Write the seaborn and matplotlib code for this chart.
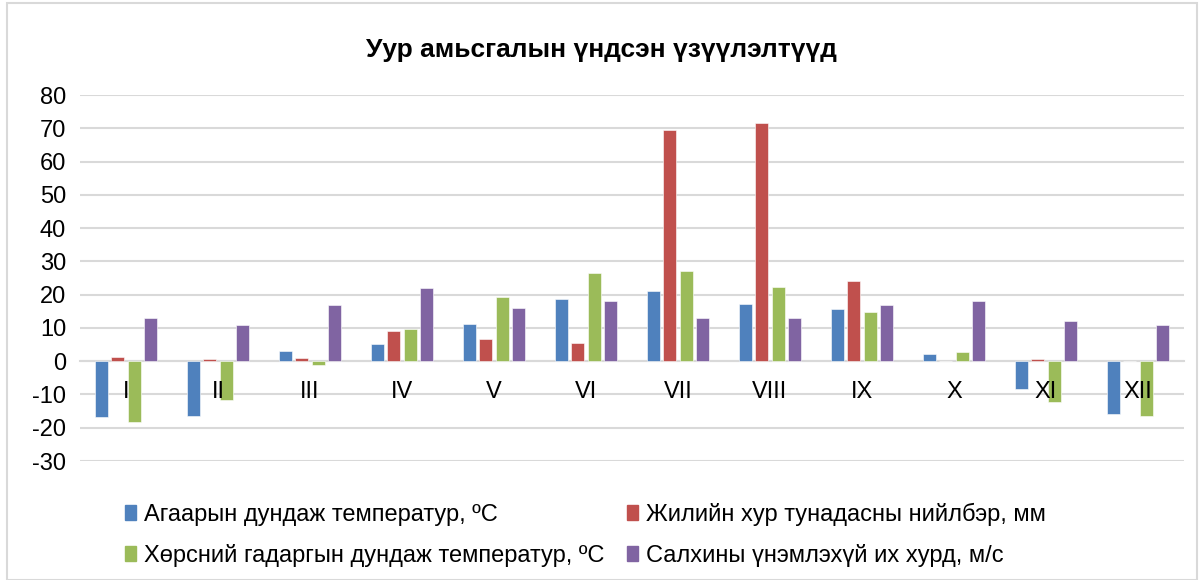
import matplotlib
matplotlib.use("Agg")
import matplotlib.pyplot as plt
import matplotlib.patches as mpatches
import seaborn as sns
import pandas as pd

months = ["I", "II", "III", "IV", "V", "VI", "VII", "VIII", "IX", "X", "XI", "XII"]
air_temp = [-16.8, -16.4, 3.1, 5.1, 11.2, 18.7, 21.0, 17.2, 15.6, 2.3, -8.4, -16.0]
precip = [1.2, 0.7, 1.0, 9.0, 6.8, 5.6, 69.5, 71.6, 24.0, 0.2, 0.8, 0.2]
soil_temp = [-18.4, -11.7, -1.0, 9.7, 19.4, 26.6, 27.2, 22.2, 14.8, 2.8, -12.4, -16.6]
wind = [13, 11, 17, 22, 16, 18, 13, 13, 17, 18, 12, 11]
series_names = [
    "Агаарын дундаж температур, ºC",
    "Жилийн хур тунадасны нийлбэр, мм",
    "Хөрсний гадаргын дундаж температур, ºC",
    "Салхины үнэмлэхүй их хурд, м/с",
]
title = "Уур амьсгалын үндсэн үзүүлэлтүүд"
colors = ["#4F81BD", "#C0504D", "#9BBB59", "#8064A2"]

rows = []
for name, vals in zip(series_names, [air_temp, precip, soil_temp, wind]):
    for m, v in zip(months, vals):
        rows.append({"month": m, "series": name, "value": v})
df = pd.DataFrame(rows)

sns.set_theme(style="white")
plt.rcParams["font.family"] = ["Liberation Sans", "DejaVu Sans"]
plt.rcParams["axes.unicode_minus"] = False
plt.rcParams["text.color"] = "black"

fig = plt.figure(figsize=(12.02, 5.80), dpi=100)
ax = fig.add_axes([80 / 1202, 1 - 461 / 580, 1104 / 1202, 366 / 580])

sns.barplot(data=df, x="month", y="value", hue="series", order=months,
            hue_order=series_names, palette=colors, saturation=1, width=0.72, gap=0.2,
            ax=ax, legend=False, edgecolor="white", linewidth=0.4, zorder=3)

ax.set_ylim(-30, 80)
ax.set_xlim(-0.5, 11.5)
ax.set_yticks(range(-30, 81, 10))
ax.yaxis.grid(True, color="#D9D9D9", linewidth=1.5, zorder=0)
ax.set_axisbelow(True)
ax.xaxis.set_zorder(6)
for s in ["top", "right", "left"]:
    ax.spines[s].set_visible(False)
ax.spines["bottom"].set_position(("data", 0))
ax.spines["bottom"].set_color("#D9D9D9")
ax.spines["bottom"].set_linewidth(1.5)
ax.spines["bottom"].set_zorder(2)
ax.tick_params(axis="x", length=0, pad=14, labelsize=17, colors="black")
ax.tick_params(axis="y", length=0, pad=10, labelsize=17, colors="black")
ax.set_xlabel("")
ax.set_ylabel("")

fig.text(0.5, 1 - 50 / 580, title, ha="center", va="center",
         fontsize=19, fontweight="bold", color="black")

handles = [mpatches.Patch(color=c, label=n) for c, n in zip(colors, series_names)]
order = [0, 2, 1, 3]
leg = fig.legend(handles=[handles[i] for i in order], loc="center left",
                 bbox_to_anchor=(104 / 1202, 1 - 535 / 580),
                 ncol=2, frameon=False, fontsize=17, handlelength=0.45, handleheight=0.6,
                 handletextpad=0.35, columnspacing=0.95, labelspacing=0.78)
for t in leg.get_texts():
    t.set_color("black")

border = mpatches.Rectangle((7 / 1202, 0.0), 1190 / 1202, 0.995,
                            transform=fig.transFigure,
                            fill=False, edgecolor="#D9D9D9", linewidth=1.5)
fig.patches.append(border)

fig.savefig("out.png", dpi=100)
